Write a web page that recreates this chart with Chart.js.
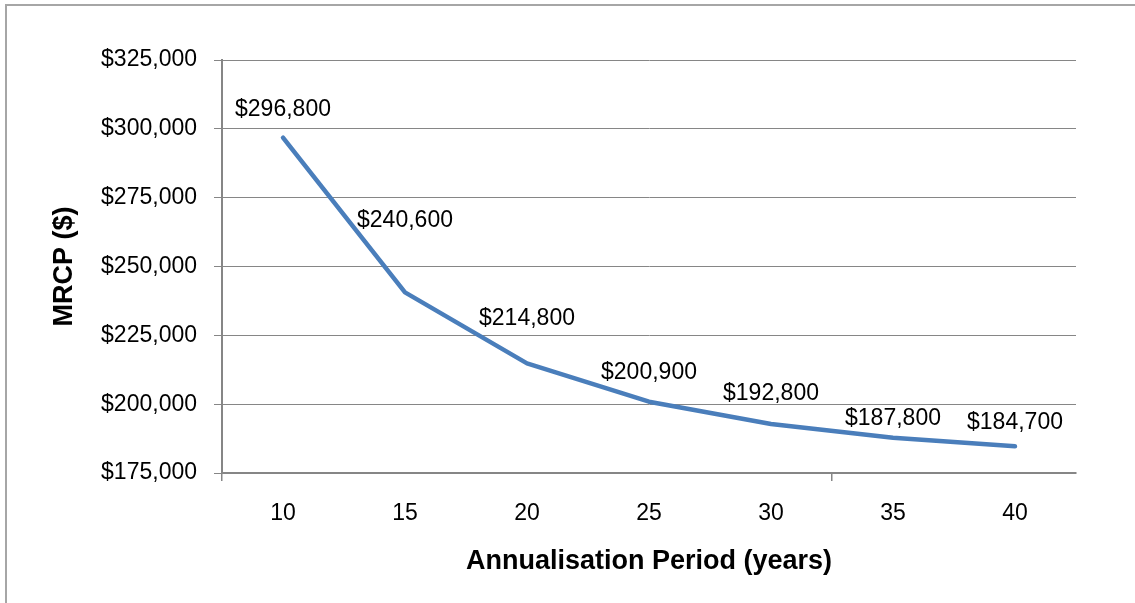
<!DOCTYPE html>
<html>
<head>
<meta charset="utf-8">
<title>MRCP vs annualisation period</title>
<script src="https://cdn.jsdelivr.net/npm/chart.js@4/dist/chart.umd.min.js"></script>
<style>
  html, body { margin: 0; padding: 0; background: #fff; overflow: hidden; }
  #wrap { position: relative; width: 1135px; height: 603px; }
  /* cadre gris du graphique (coupé à droite et en bas comme sur l'image) */
  #frame {
    position: absolute; left: 5px; top: 4px; width: 1200px; height: 700px;
    border: 2px solid #a6a6a6; box-sizing: border-box;
  }
  #chart { position: absolute; left: 0; top: 0; }
</style>
</head>
<body>
<div id="wrap">
  <div id="frame"></div>
  <canvas id="chart" width="1135" height="603"></canvas>
</div>
<script>
'use strict';

/* ─── Données ─────────────────────────────────────────────── */
var years = ['10', '15', '20', '25', '30', '35', '40'];
var mrcp  = [296800, 240600, 214800, 200900, 192800, 187800, 184700];
var yMin  = 175000;
var yMax  = 325000;
var yStep = 25000;

/* décalage vertical (px) des étiquettes, placées à la main dans l'original */
var labelShiftY = [-28, -72, -45, -29, -30, -19, -24];

var FONT  = '"Liberation Sans", Arial, sans-serif';
var GREY  = '#868686';
var BLUE  = '#4a7ebb';

function money(v) {
  return '$' + Number(v).toLocaleString('en-US');
}

/* ─── Étiquettes de valeurs ───────────────────────────────── */
var pointLabels = {
  id: 'pointLabels',
  afterDatasetsDraw: function(chart) {
    var ctx  = chart.ctx;
    var meta = chart.getDatasetMeta(0);
    ctx.save();
    ctx.font = '23px ' + FONT;
    ctx.fillStyle = '#000';
    ctx.textAlign = 'center';
    ctx.textBaseline = 'middle';
    for (var i = 0; i < meta.data.length; i++) {
      var pt = meta.data[i];
      ctx.fillText(money(mrcp[i]), pt.x, pt.y + labelShiftY[i]);
    }
    ctx.restore();
  }
};

/* ─── Graphique ───────────────────────────────────────────── */
new Chart(document.getElementById('chart'), {
  type: 'line',
  data: {
    labels: years,
    datasets: [{
      data: mrcp,
      borderColor: BLUE,
      borderWidth: 4.5,
      borderCapStyle: 'round',
      borderJoinStyle: 'round',
      pointRadius: 0,
      pointHoverRadius: 0,
      tension: 0,
      fill: false
    }]
  },
  plugins: [pointLabels],
  options: {
    responsive: false,
    animation: false,
    events: [],
    layout: { padding: { left: 0, top: 60, right: 59, bottom: 0 } },
    plugins: {
      legend:  { display: false },
      tooltip: { enabled: false }
    },
    scales: {
      x: {
        offset: true,
        afterFit: function(scale) { scale.height = 130; },
        grid: {
          offset: true,
          drawOnChartArea: false,
          tickLength: 8,
          lineWidth: 1.5,
          /* Excel : une graduation toutes les 5 catégories */
          color: function(c) {
            return (c.index === 0 || c.index === 5) ? GREY : 'rgba(0,0,0,0)';
          }
        },
        border: { color: GREY, width: 2 },
        ticks: { color: '#000', font: { family: FONT, size: 23 }, padding: 19, maxRotation: 0 },
        title: {
          display: true,
          text: 'Annualisation Period (years)',
          color: '#000',
          font: { family: FONT, size: 27, weight: 'bold' },
          padding: { top: 0, bottom: 25 }
        }
      },
      y: {
        min: yMin,
        max: yMax,
        afterFit: function(scale) { scale.width = 222; },
        grid: { color: GREY, lineWidth: 1, tickLength: 8 },
        border: { color: GREY, width: 2 },
        ticks: {
          stepSize: yStep,
          color: '#000',
          font: { family: FONT, size: 23 },
          padding: 17,
          callback: function(v) { return money(v); }
        },
        title: {
          display: true,
          text: 'MRCP ($)',
          color: '#000',
          font: { family: FONT, size: 27, weight: 'bold' },
          padding: { top: 48, bottom: 0 }
        }
      }
    }
  }
});
</script>
</body>
</html>
